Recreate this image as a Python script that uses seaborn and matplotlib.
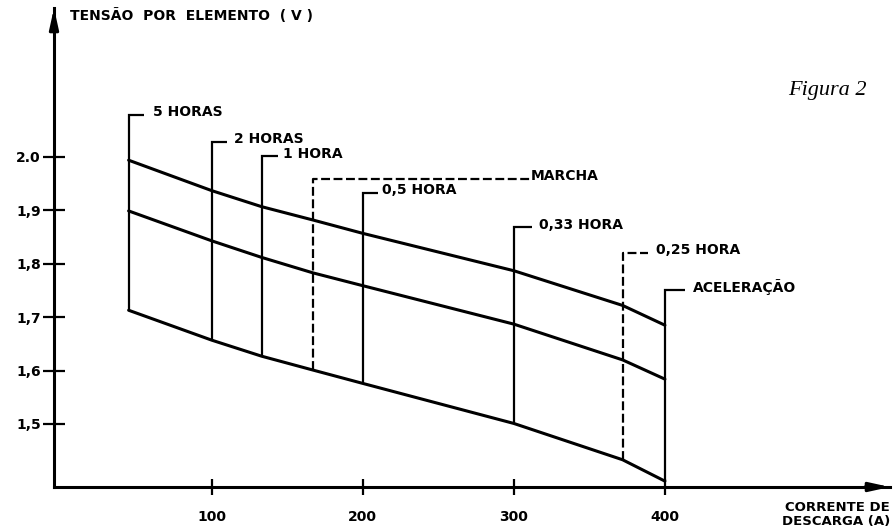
import matplotlib
matplotlib.use("Agg")
import matplotlib.pyplot as plt
import pandas as pd
import seaborn as sns

# Discharge current (A) of each marked regime
corrente = [45, 100, 133, 167, 200, 300, 372, 400]
regimes = ["5 HORAS", "2 HORAS", "1 HORA", "MARCHA", "0,5 HORA",
           "0,33 HORA", "0,25 HORA", "ACELERAÇÃO"]
tracejado = [False, False, False, True, False, False, True, False]

# Cell voltage (V) along the three curves, at the currents above
tensao_sup = [1.994, 1.937, 1.907, 1.882, 1.857, 1.787, 1.722, 1.685]
tensao_med = [1.899, 1.843, 1.812, 1.783, 1.759, 1.687, 1.620, 1.584]
tensao_inf = [1.713, 1.657, 1.627, 1.601, 1.576, 1.501, 1.433, 1.393]

# Height (V) where each regime's leader ends, and its horizontal run (A)
topo_guia = [2.079, 2.029, 2.001, 1.959, 1.933, 1.868, 1.820, 1.751]
run_guia = [10, 10, 11, 144, 10, 12, 17, 13]
folga_texto = [6, 4.5, 3, 0, 3, 4.5, 5, 5.5]

yticks = [2.0, 1.9, 1.8, 1.7, 1.6, 1.5]
ytick_labels = ["2.0", "1,9", "1,8", "1,7", "1,6", "1,5"]
xticks = [100, 200, 300, 400]
xtick_labels = ["100", "200", "300", "400"]

sns.set_theme(style="white")
plt.rcParams["font.family"] = ["DejaVu Sans"]
plt.rcParams["font.weight"] = "bold"

W, H = 893, 528
fig = plt.figure(figsize=(W / 100, H / 100), dpi=100)
ax = fig.add_axes([54 / W, 1 - 487 / H, (890 - 54) / W, (487 - 8) / H])

df = pd.DataFrame({
    "corrente": corrente * 3,
    "tensao": tensao_sup + tensao_med + tensao_inf,
    "curva": ["sup"] * len(corrente) + ["med"] * len(corrente) + ["inf"] * len(corrente),
})
sns.lineplot(data=df, x="corrente", y="tensao", units="curva", estimator=None,
             color="black", lw=2.2, ax=ax, legend=False)

# Leader lines from the lower curve up to each regime label
for x, v0, vt, run, gap, nome, tr in zip(corrente, tensao_inf, topo_guia, run_guia,
                                         folga_texto, regimes, tracejado):
    ls = (0, (4, 1.6)) if tr else "-"
    ax.plot([x, x, x + run], [v0, vt, vt], color="black", lw=1.6, ls=ls,
            solid_capstyle="butt", solid_joinstyle="miter")
    ax.text(x + run + gap, vt + 0.005, nome, ha="left", va="center",
            fontsize=10, fontweight="bold", color="black")

ax.set_xlim(-4.4, 549)
ax.set_ylim(1.382, 2.279)
ax.set_xticks(xticks)
ax.set_xticklabels(xtick_labels)
ax.set_yticks(yticks)
ax.set_yticklabels(ytick_labels)
ax.set_xlabel("")
ax.set_ylabel("")
ax.tick_params(axis="y", direction="inout", length=16, width=1.6, pad=1.5,
               labelsize=10, colors="black", left=True)
ax.tick_params(axis="x", direction="inout", length=11, width=1.6, pad=11,
               labelsize=10, colors="black", bottom=True)
for lab in ax.get_xticklabels() + ax.get_yticklabels():
    lab.set_fontweight("bold")

for s in ["top", "right"]:
    ax.spines[s].set_visible(False)
for s in ["left", "bottom"]:
    ax.spines[s].set_linewidth(2.2)
    ax.spines[s].set_color("black")

# Arrow heads at the ends of both axes
ax.annotate("", xy=(0, 1.0), xytext=(0, 0.95), xycoords="axes fraction",
            arrowprops=dict(arrowstyle="-|>,head_length=1.0,head_width=0.22",
                            color="black", lw=2.2, shrinkA=0, shrinkB=0))
ax.annotate("", xy=(1.0, 0), xytext=(0.97, 0), xycoords="axes fraction",
            arrowprops=dict(arrowstyle="-|>,head_length=1.0,head_width=0.22",
                            color="black", lw=2.2, shrinkA=0, shrinkB=0))

fig.text(70 / W, 1 - 16 / H, "TENSÃO  POR  ELEMENTO  ( V )", ha="left", va="center",
         fontsize=10, fontweight="bold", color="black")
fig.text(890 / W, 1 - 501 / H, "CORRENTE DE\nDESCARGA (A)", ha="right", va="top",
         fontsize=9.5, fontweight="bold", color="black", linespacing=1.05)
fig.text(788 / W, 1 - 91 / H, "Figura 2", ha="left", va="center",
         fontsize=16, family="Liberation Serif", style="italic",
         fontweight="normal", color="black")

fig.savefig("out.png", dpi=100, facecolor="white")
